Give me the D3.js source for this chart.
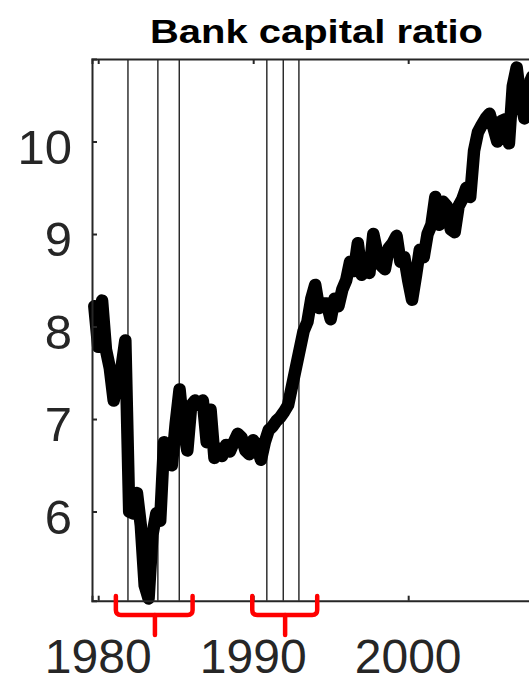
<!DOCTYPE html>
<html>
<head>
<meta charset="utf-8">
<script src="https://cdn.jsdelivr.net/npm/d3@7"></script>
<style>
  html, body { margin: 0; padding: 0; background: #fff; }
  svg { display: block; }
</style>
</head>
<body>
<svg id="chart" width="529" height="679"></svg>
<script>
// Bank capital ratio (%), quarterly, starting 1979 Q4
const firstQuarter = 1979.75;
const capitalRatio = [
  8.22, 7.78, 8.28, 7.75, 7.55, 7.20, 7.45, 7.55, 7.85,
  6.00, 5.98, 6.20, 5.85, 5.20, 5.06, 5.75, 5.98, 5.90,
  6.75, 6.70, 6.50, 6.95, 7.32, 6.90, 6.66, 7.15, 7.20,
  7.15, 7.20, 6.75, 7.10, 6.58, 6.68, 6.60, 6.72, 6.65,
  6.75, 6.84, 6.80, 6.66, 6.62, 6.77, 6.70, 6.56, 6.75,
  6.88, 6.92, 6.98, 7.02, 7.08, 7.15, 7.35, 7.55, 7.75,
  7.95, 8.05, 8.30, 8.45, 8.20, 8.25, 8.25, 8.08, 8.30,
  8.22, 8.40, 8.50, 8.70, 8.60, 8.90, 8.56, 8.60, 8.58,
  9.00, 8.80, 8.66, 8.62, 8.85, 8.90, 8.98, 8.70, 8.75,
  8.50, 8.29, 8.55, 8.83, 8.75, 9.00, 9.10, 9.40, 9.10,
  9.35, 9.30, 9.05, 9.02, 9.30, 9.38, 9.50, 9.40, 9.90,
  10.10, 10.18, 10.25, 10.30, 10.15, 10.00, 10.22, 10.24, 9.98,
  10.60, 10.80, 10.45, 10.25, 10.60, 10.70
];
const quarterDates = capitalRatio.map((_, i) => firstQuarter + i * 0.25);

// Event markers (vertical lines) and the two bracketed episodes
const eventDates = [1981.92, 1983.85, 1985.23, 1990.88, 1991.94, 1992.95];
const episodes = [
  { start: 1981.14, end: 1986.09, mid: 1983.66 },
  { start: 1989.94, end: 1994.13, mid: 1992.06 }
];

const xTicks = [1980, 1990, 2000];
const yTicks = [6, 7, 8, 9, 10];

const svg = d3.select("#chart");
const plotLeft = 92, plotRight = 550, plotTop = 59, plotBottom = 600.7;
const axisColor = "#262626";
const font = "Liberation Sans, Arial, sans-serif";

const x = d3.scaleLinear().domain([1979.6, 2009.15]).range([plotLeft, plotRight]);
const y = d3.scaleLinear().domain([5.036, 10.892]).range([plotBottom, plotTop]);

// Title
svg.append("text")
  .attr("x", 316.5).attr("y", 43)
  .attr("text-anchor", "middle")
  .attr("font-family", font)
  .attr("font-weight", "bold")
  .attr("font-size", 34)
  .attr("fill", "#000")
  .attr("textLength", 333)
  .attr("lengthAdjust", "spacingAndGlyphs")
  .text("Bank capital ratio");

// Event lines
svg.append("g").selectAll("line").data(eventDates).join("line")
  .attr("x1", d => x(d)).attr("x2", d => x(d))
  .attr("y1", plotTop).attr("y2", plotBottom)
  .attr("stroke", "#222").attr("stroke-width", 1.4);

// Series
const line = d3.line().x((d, i) => x(quarterDates[i])).y(d => y(d));
svg.append("path")
  .datum(capitalRatio)
  .attr("d", line)
  .attr("fill", "none")
  .attr("stroke", "#000")
  .attr("stroke-width", 12.5)
  .attr("stroke-linejoin", "round")
  .attr("stroke-linecap", "round");

// Axes box (inward ticks)
const axLeft = svg.append("g").attr("transform", `translate(${plotLeft},0)`)
  .call(d3.axisRight(y).tickValues(yTicks).tickSize(5).tickFormat(""));
const axBottom = svg.append("g").attr("transform", `translate(0,${plotBottom})`)
  .call(d3.axisTop(x).tickValues(xTicks).tickSize(5).tickFormat(""));
const axTop = svg.append("g").attr("transform", `translate(0,${plotTop})`)
  .call(d3.axisBottom(x).tickValues(xTicks).tickSize(5).tickFormat(""));
[axLeft, axBottom, axTop].forEach(g => {
  g.selectAll("path.domain").attr("stroke", axisColor).attr("stroke-width", 2);
  g.selectAll(".tick line").attr("stroke", axisColor).attr("stroke-width", 2);
});

// Tick labels
svg.append("g").selectAll("text").data(yTicks).join("text")
  .attr("x", 72).attr("y", d => y(d) + 22)
  .attr("text-anchor", "end")
  .attr("font-family", font).attr("font-size", 49)
  .attr("fill", axisColor)
  .text(d => d);
svg.append("g").selectAll("text").data(xTicks).join("text")
  .attr("x", d => x(d)).attr("y", 673)
  .attr("text-anchor", "middle")
  .attr("font-family", font).attr("font-size", 48)
  .attr("fill", axisColor)
  .text(d => d);

// Red brackets under the episodes
const armTop = 596, barY = 615, stemBottom = 635, r = 5;
const bracket = svg.append("g")
  .attr("fill", "none").attr("stroke", "#ff0000")
  .attr("stroke-width", 4.5).attr("stroke-linecap", "round").attr("stroke-linejoin", "round");
episodes.forEach(e => {
  const xl = x(e.start), xr = x(e.end), xm = x(e.mid);
  bracket.append("path").attr("d",
    `M${xl},${armTop} L${xl},${barY - r} Q${xl},${barY} ${xl + r},${barY}` +
    ` L${xr - r},${barY} Q${xr},${barY} ${xr},${barY - r} L${xr},${armTop}`);
  bracket.append("path").attr("d", `M${xm},${barY} L${xm},${stemBottom}`);
});
</script>
</body>
</html>
